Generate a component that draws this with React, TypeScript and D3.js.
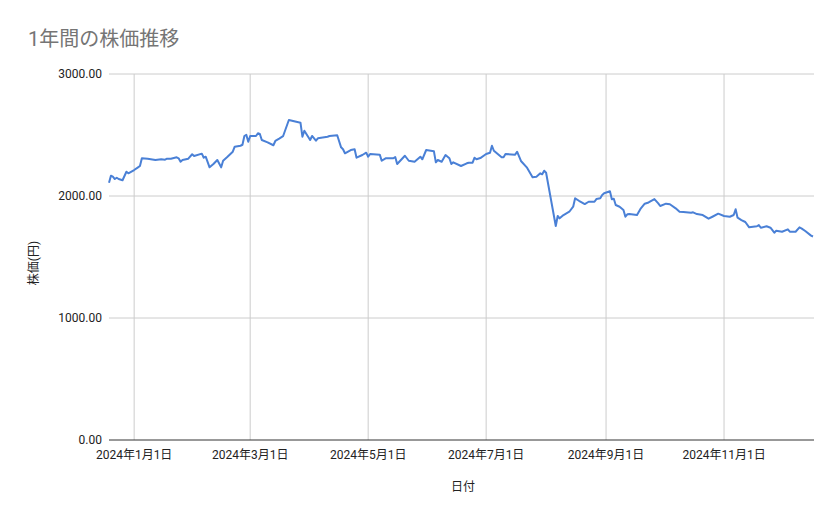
import React from "react";
import * as d3 from "d3";

const title = "1年間の株価推移";
const xTitle = "日付";
const yTitle = "株価(円)";

const dates: string[] = [
  "2023-12-19","2023-12-20","2023-12-21","2023-12-22","2023-12-23","2023-12-24","2023-12-26","2023-12-28","2023-12-29",
  "2024-01-01","2024-01-03","2024-01-04","2024-01-05","2024-01-08","2024-01-12","2024-01-15","2024-01-17","2024-01-18","2024-01-20",
  "2024-01-23","2024-01-24","2024-01-25","2024-01-26","2024-01-29","2024-01-31",
  "2024-02-01","2024-02-05","2024-02-06","2024-02-07","2024-02-09","2024-02-11","2024-02-13","2024-02-15","2024-02-16","2024-02-18",
  "2024-02-21","2024-02-22","2024-02-25","2024-02-26","2024-02-27","2024-02-28","2024-02-29",
  "2024-03-01","2024-03-04","2024-03-05","2024-03-06","2024-03-07","2024-03-10","2024-03-13","2024-03-14","2024-03-16","2024-03-18",
  "2024-03-21","2024-03-27","2024-03-28","2024-03-29",
  "2024-04-01","2024-04-02","2024-04-04","2024-04-05","2024-04-10","2024-04-11","2024-04-15","2024-04-17","2024-04-18","2024-04-19",
  "2024-04-22","2024-04-24","2024-04-25","2024-04-28","2024-04-30",
  "2024-05-01","2024-05-02","2024-05-07","2024-05-08","2024-05-10","2024-05-14","2024-05-15","2024-05-16","2024-05-20","2024-05-22",
  "2024-05-25","2024-05-28","2024-05-29","2024-05-31",
  "2024-06-04","2024-06-05","2024-06-06","2024-06-08","2024-06-10","2024-06-12","2024-06-13","2024-06-14","2024-06-18","2024-06-21",
  "2024-06-22","2024-06-24","2024-06-25","2024-06-26","2024-06-28",
  "2024-07-01","2024-07-03","2024-07-04","2024-07-05","2024-07-09","2024-07-10","2024-07-11","2024-07-16","2024-07-17","2024-07-19",
  "2024-07-22","2024-07-25","2024-07-27","2024-07-29","2024-07-30","2024-07-31",
  "2024-08-01","2024-08-06","2024-08-07","2024-08-08","2024-08-10","2024-08-13","2024-08-15","2024-08-16","2024-08-18","2024-08-21",
  "2024-08-23","2024-08-26","2024-08-27","2024-08-29","2024-08-30","2024-08-31",
  "2024-09-03","2024-09-04","2024-09-05","2024-09-06","2024-09-08","2024-09-10","2024-09-11","2024-09-12","2024-09-13","2024-09-17",
  "2024-09-19","2024-09-21","2024-09-23","2024-09-26","2024-09-28","2024-09-29",
  "2024-10-02","2024-10-04","2024-10-07","2024-10-09","2024-10-11","2024-10-15","2024-10-16","2024-10-18","2024-10-21","2024-10-24",
  "2024-10-26","2024-10-29",
  "2024-11-01","2024-11-04","2024-11-06","2024-11-07","2024-11-08","2024-11-10","2024-11-12","2024-11-14","2024-11-18","2024-11-19",
  "2024-11-20","2024-11-23","2024-11-25","2024-11-27","2024-11-28",
  "2024-12-01","2024-12-04","2024-12-05","2024-12-08","2024-12-10","2024-12-11","2024-12-13","2024-12-16","2024-12-17",
];

const prices: number[] = [
  2109,2166,2158,2139,2150,2139,2129,2199,2186,
  2213,2235,2246,2309,2306,2295,2301,2298,2306,2306,
  2317,2309,2281,2295,2306,2342,
  2328,2347,2314,2322,2235,2262,2295,2235,2289,2317,
  2363,2404,2412,2420,2492,2502,2445,
  2492,2492,2514,2508,2459,2440,2416,2451,2470,2490,
  2623,2601,2486,2535,
  2459,2492,2453,2473,2486,2492,2498,2399,2383,2350,
  2377,2383,2314,2336,2355,
  2322,2344,2339,2289,2309,2309,2320,2262,2330,2289,
  2281,2322,2301,2377,
  2366,2276,2295,2281,2336,2309,2262,2276,2246,2268,
  2273,2273,2314,2301,2311,
  2344,2355,2412,2371,2317,2317,2344,2339,2363,2287,
  2235,2153,2158,2186,2178,2207,
  2191,1754,1836,1817,1844,1871,1912,1981,1961,1934,
  1953,1953,1975,1981,2008,2022,
  2039,1973,1978,1926,1912,1885,1830,1850,1852,1844,
  1899,1937,1947,1975,1940,1918,
  1937,1932,1899,1871,1869,1863,1866,1852,1844,1814,
  1830,1855,
  1836,1830,1844,1891,1822,1803,1787,1743,1752,1762,
  1740,1752,1740,1699,1716,
  1707,1727,1707,1707,1743,1735,1713,1675,1668,
];

const xTickDates: string[] = ["2024-01-01","2024-03-01","2024-05-01","2024-07-01","2024-09-01","2024-11-01"];
const yTickValues: number[] = [0, 1000, 2000, 3000];

const W = 839;
const H = 519;
const left = 109;
const right = 813;
const top = 74;
const bottom = 440;
const font = "Roboto, Arial, 'Liberation Sans', 'Noto Sans CJK JP', sans-serif";

export default function App() {
  const parse = d3.utcParse("%Y-%m-%d");
  const data = dates.map((d, i) => ({ date: parse(d) as Date, value: prices[i] }));
  const x = d3
    .scaleUtc()
    .domain(d3.extent(data, (d) => d.date) as [Date, Date])
    .range([left, right]);
  const y = d3.scaleLinear().domain([0, 3000]).range([bottom, top]);
  const fmt = d3.utcFormat("%Y年%-m月%-d日");
  const line = d3
    .line<{ date: Date; value: number }>()
    .x((d) => x(d.date))
    .y((d) => y(d.value));
  const xTicks = xTickDates.map((s) => parse(s) as Date);

  return (
    <svg
      width={W}
      height={H}
      style={{ position: "absolute", left: 0, top: 0, background: "#fff" }}
      fontFamily={font}
    >
      <rect x={0} y={0} width={W} height={H} fill="#fff" />
      <text x={28} y={46} fontSize={20} fill="#757575">
        {title}
      </text>
      {yTickValues.map((v) => (
        <g key={v}>
          {v !== 0 && (
            <line x1={left} x2={right + 1} y1={y(v)} y2={y(v)} stroke="#cccccc" strokeWidth={1} />
          )}
          <text x={102} y={y(v)} dy="0.35em" textAnchor="end" fontSize={12} fill="#222">
            {v.toFixed(2)}
          </text>
        </g>
      ))}
      {xTicks.map((t, i) => (
        <g key={i}>
          <line x1={x(t)} x2={x(t)} y1={top} y2={bottom} stroke="#cccccc" strokeWidth={1} />
          <text x={x(t)} y={459} textAnchor="middle" fontSize={12} fill="#222">
            {fmt(t)}
          </text>
        </g>
      ))}
      <path d={line(data) || ""} fill="none" stroke="#4a80d6" strokeWidth={2} strokeLinejoin="round" />
      <line x1={left} x2={right + 1} y1={bottom} y2={bottom} stroke="#333" strokeWidth={1} />
      <text x={(left + right) / 2 + 2} y={491} textAnchor="middle" fontSize={12} fill="#222">
        {xTitle}
      </text>
      <text
        transform={`translate(38, ${(top + bottom) / 2 + 6}) rotate(-90)`}
        textAnchor="middle"
        fontSize={12}
        fill="#222"
      >
        {yTitle}
      </text>
    </svg>
  );
}
